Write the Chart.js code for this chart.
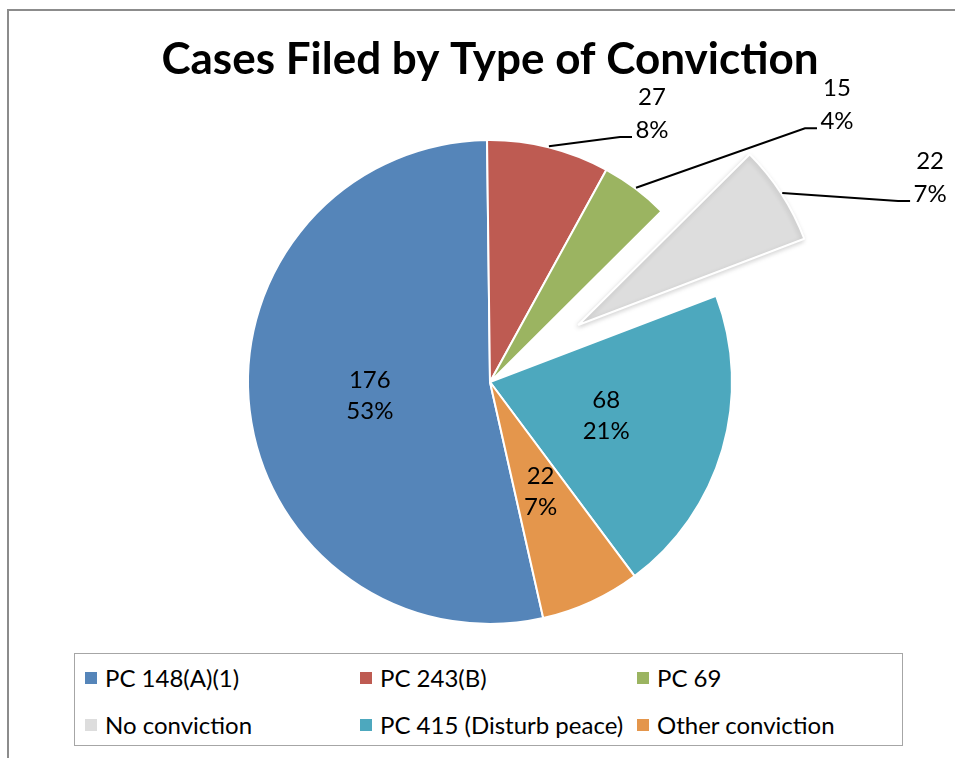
<!DOCTYPE html>
<html><head><meta charset="utf-8">
<script src="https://cdn.jsdelivr.net/npm/chart.js@4.4.1/dist/chart.umd.min.js"></script>
<style>
html,body{margin:0;padding:0;background:#fff;}
#wrap{position:relative;width:955px;height:758px;overflow:hidden;}
#frame{position:absolute;left:7px;top:9px;width:1100px;height:900px;border:2px solid #8c8c8c;box-sizing:border-box;}
#c{position:absolute;left:0;top:0;}
#legend{position:absolute;left:74px;top:653px;width:829px;height:93px;border:1.5px solid #a6a6a6;box-sizing:border-box;
  font-family:Lato,sans-serif;font-size:24px;color:#000;display:grid;grid-template-columns:275px 277px auto;grid-template-rows:47px 47px;padding-left:10px;background:#fff;}
.item{display:flex;align-items:center;white-space:nowrap;}
.sw{width:12px;height:12px;margin-right:8px;flex:none;}
</style></head>
<body><div id="wrap"><div id="frame"></div><canvas id="c" width="955" height="758"></canvas><div id="legend"></div></div>
<script>
const categories = ['PC 148(A)(1)', 'PC 243(B)', 'PC 69', 'No conviction', 'PC 415 (Disturb peace)', 'Other conviction'];
const caseCounts = [176, 27, 15, 22, 68, 22];
const percentLabels = ['53%', '8%', '4%', '7%', '21%', '7%'];
const chartTitle = 'Cases Filed by Type of Conviction';

const sliceColors = ['#5585B9', '#BE5B52', '#9BB461', '#DDDDDD', '#4DA8BE', '#E4964C'];
const explodeOffsets = [0, 0, 0, 105, 0, 0];
// outside label leader ends: angle (deg clockwise from top), distance in radii
const outsideLabels = [null, {angle: 30.1, dist: 1.17}, {angle: 52.2, dist: 1.71}, {angle: 66.7, dist: 1.89}, null, null];

const explodePlugin = {
  id: 'explodeSlices',
  afterUpdate(chart) {
    chart.getDatasetMeta(0).data.forEach((el, i) => {
      const d = explodeOffsets[i] || 0;
      if (d && !el.__exploded) {
        const orig = el.draw;
        el.draw = function (ctx) {
          const m = (this.startAngle + this.endAngle) / 2;
          ctx.save();
          ctx.translate(Math.cos(m) * d, Math.sin(m) * d);
          ctx.shadowColor = 'rgba(0,0,0,0.16)';
          ctx.shadowBlur = 5;
          ctx.shadowOffsetX = -1;
          ctx.shadowOffsetY = 2;
          orig.call(this, ctx);
          ctx.restore();
        };
        el.__exploded = true;
      }
    });
  }
};

const labelPlugin = {
  id: 'sliceLabels',
  afterDatasetsDraw(chart) {
    const meta = chart.getDatasetMeta(0);
    const ctx = chart.ctx;
    const vals = chart.data.datasets[0].data;
    ctx.save();
    ctx.font = '24px Lato';
    ctx.fillStyle = '#000';
    ctx.textAlign = 'center';
    ctx.textBaseline = 'middle';
    meta.data.forEach((arc, i) => {
      const p = arc.getProps(['x', 'y', 'startAngle', 'endAngle', 'outerRadius'], true);
      const mid = (p.startAngle + p.endAngle) / 2;
      const ex = explodeOffsets[i] || 0;
      const cx = p.x + Math.cos(mid) * ex, cy = p.y + Math.sin(mid) * ex;
      const l1 = String(vals[i]), l2 = percentLabels[i];
      const out = outsideLabels[i];
      if (!out) {
        const lx = cx + Math.cos(mid) * p.outerRadius * 0.5;
        const ly = cy + Math.sin(mid) * p.outerRadius * 0.5;
        ctx.fillText(l1, lx, ly - 15.5);
        ctx.fillText(l2, lx, ly + 15.5);
      } else {
        const ax = cx + Math.cos(mid) * (p.outerRadius + 1), ay = cy + Math.sin(mid) * (p.outerRadius + 1);
        const ang = (out.angle - 90) * Math.PI / 180;
        const exx = p.x + Math.cos(ang) * p.outerRadius * out.dist;
        const eyy = p.y + Math.sin(ang) * p.outerRadius * out.dist;
        ctx.beginPath();
        ctx.moveTo(ax, ay);
        ctx.lineTo(exx - 12, eyy);
        ctx.lineTo(exx, eyy);
        ctx.lineWidth = 2;
        ctx.strokeStyle = '#000';
        ctx.stroke();
        ctx.fillText(l1, exx + 20, eyy - 40);
        ctx.fillText(l2, exx + 20, eyy - 7);
      }
    });
    ctx.restore();
  }
};

new Chart(document.getElementById('c'), {
  type: 'pie',
  data: {
    labels: categories,
    datasets: [{data: caseCounts, backgroundColor: sliceColors, borderColor: '#ffffff', borderWidth: 2}]
  },
  options: {
    responsive: false,
    animation: false,
    rotation: 167.3,
    radius: 242,
    layout: {padding: {left: 25, right: 0, top: 0, bottom: 88.4}},
    plugins: {
      legend: {display: false},
      tooltip: {enabled: false},
      title: {display: true, text: chartTitle, color: '#000',
        font: {family: 'Lato', size: 44, weight: 'bold'}, padding: {top: 33, bottom: 8.6}}
    }
  },
  plugins: [explodePlugin, labelPlugin]
});

const lg = document.getElementById('legend');
categories.forEach((c, i) => {
  const d = document.createElement('div');
  d.className = 'item';
  d.innerHTML = '<span class="sw" style="background:' + sliceColors[i] + '"></span><span></span>';
  d.lastChild.textContent = c;
  lg.appendChild(d);
});
</script>
</body></html>
